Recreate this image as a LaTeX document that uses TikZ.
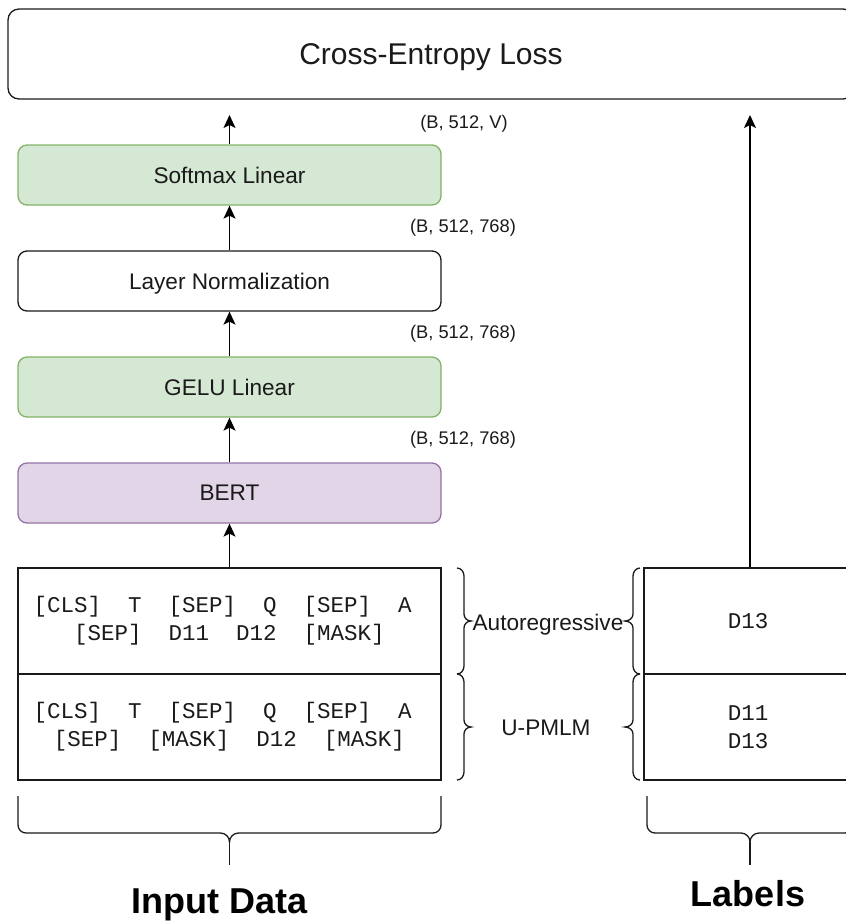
\documentclass[tikz,border=0pt]{standalone}
\usepackage{fontspec}
\setmainfont{Liberation Sans}
\newfontfamily\monofont{Liberation Mono}
\usetikzlibrary{arrows.meta}

\definecolor{greenfill}{HTML}{D5E8D4}
\definecolor{greenline}{HTML}{82B366}
\definecolor{purplefill}{HTML}{E1D5E7}
\definecolor{purpleline}{HTML}{9673A6}
\definecolor{ink}{HTML}{1A1A1A}

\tikzset{
  layer/.style={draw=ink, rounded corners=9pt, line width=1.3pt,
    minimum width=423pt, minimum height=60pt, inner sep=0pt,
    text depth=0pt, text=ink, font=\fontsize{22.6}{27}\selectfont},
  greenlayer/.style={layer, draw=greenline, fill=greenfill},
  purplelayer/.style={layer, draw=purpleline, fill=purplefill},
  cell/.style={draw=ink, line width=1.3pt, minimum height=106pt,
    inner sep=0pt, align=center, text=ink,
    font=\monofont\fontsize{22.5}{28}\selectfont},
  shapelabel/.style={text=ink, inner sep=0pt, font=\fontsize{18.3}{22}\selectfont},
  sidelabel/.style={text=ink, inner sep=0pt, text depth=0pt,
    font=\fontsize{22.6}{27}\selectfont},
  grouplabel/.style={text=black, inner sep=0pt, anchor=base,
    font=\bfseries\fontsize{36}{40}\selectfont},
  flow/.style={-{Stealth[length=13pt,width=12pt,inset=3pt]}, line width=1.5pt, draw=black},
  bracket/.style={draw=ink, line width=1.3pt},
}

\begin{document}
\begin{tikzpicture}[x=1pt, y=-1pt]
  \useasboundingbox (0,0) rectangle (846,922);
  \clip (0,0) rectangle (846,922);

  % loss on top
  \node[layer, rounded corners=11pt, minimum width=846pt, minimum height=90pt,
        font=\fontsize{30}{36}\selectfont] (loss) at (431,54) {Cross-Entropy Loss};

  % model stack
  \node[greenlayer]  (softmax) at (229.5,175) {Softmax Linear};
  \node[layer, fill=white] (norm) at (229.5,281) {Layer Normalization};
  \node[greenlayer]  (gelu)    at (229.5,387) {GELU Linear};
  \node[purplelayer] (bert)    at (229.5,493) {BERT};

  % input sequences (first line keeps a trailing blank)
  \node[cell, minimum width=423pt] (inA) at (229.5,621)
    {[CLS]~~T~~[SEP]~~Q~~[SEP]~~A\phantom{A}\\{[SEP]}~~D11~~D12~~[MASK]};
  \node[cell, minimum width=423pt] (inB) at (229.5,727)
    {[CLS]~~T~~[SEP]~~Q~~[SEP]~~A\phantom{A}\\{[SEP]}~~[MASK]~~D12~~[MASK]};

  % target labels
  \node[cell, minimum width=208pt] (labA) at (748,621) {D13};
  \node[cell, minimum width=208pt] (labB) at (748,727) {D11\\D13};

  % tensor shapes
  \node[shapelabel] (dimV)  at (464,124) {(B, 512, V)};
  \node[shapelabel] (dim1)  at (463,228) {(B, 512, 768)};
  \node[shapelabel] (dim2)  at (463,334) {(B, 512, 768)};
  \node[shapelabel] (dim3)  at (463,440) {(B, 512, 768)};

  % data flow
  \coordinate (lossL) at (229.5,115);
  \coordinate (lossR) at (750,115);
  \draw[flow] (inA.north) -- (bert.south);
  \draw[flow] (bert.north) -- (gelu.south);
  \draw[flow] (gelu.north) -- (norm.south);
  \draw[flow] (norm.north) -- (softmax.south);
  \draw[flow] (softmax.north) -- (lossL);
  \draw[flow] (labA.north -| lossR) -- (lossR);

  % objective names between the brackets
  \node[sidelabel] (ar) at (548,622) {Autoregressive};
  \node[sidelabel] (pm) at (546,728) {U-PMLM};

  % brackets right of the inputs
  \foreach \ya/\ym/\yb in {568/621/674, 674/727/780}{
    \draw[bracket] (457,\ya) to[out=0,in=90] (464,\ya+8) -- (464,\ym-7)
      to[out=-90,in=180] (471,\ym) to[out=180,in=90] (464,\ym+7)
      -- (464,\yb-8) to[out=-90,in=0] (457,\yb);
    % brackets left of the labels
    \draw[bracket] (640,\ya) to[out=180,in=90] (633,\ya+8) -- (633,\ym-7)
      to[out=-90,in=0] (625,\ym) to[out=0,in=90] (633,\ym+7)
      -- (633,\yb-8) to[out=-90,in=180] (640,\yb);
  }

  % group brackets underneath
  \foreach \xa/\xm/\xb in {18/229.5/441, 647/750/853}{
    \draw[bracket] (\xa,796) -- (\xa,825) to[out=-90,in=180] (\xa+8,833)
      -- (\xm-9,833) to[out=0,in=90] (\xm,842) to[out=90,in=180] (\xm+9,833)
      -- (\xb-8,833) to[out=0,in=-90] (\xb,825) -- (\xb,796);
    \draw[bracket] (\xm,842) -- (\xm,865);
  }

  \node[grouplabel] (inputs) at (219.5,913) {Input Data};
  \node[grouplabel] (labels) at (748,906) {Labels};
\end{tikzpicture}
\end{document}
